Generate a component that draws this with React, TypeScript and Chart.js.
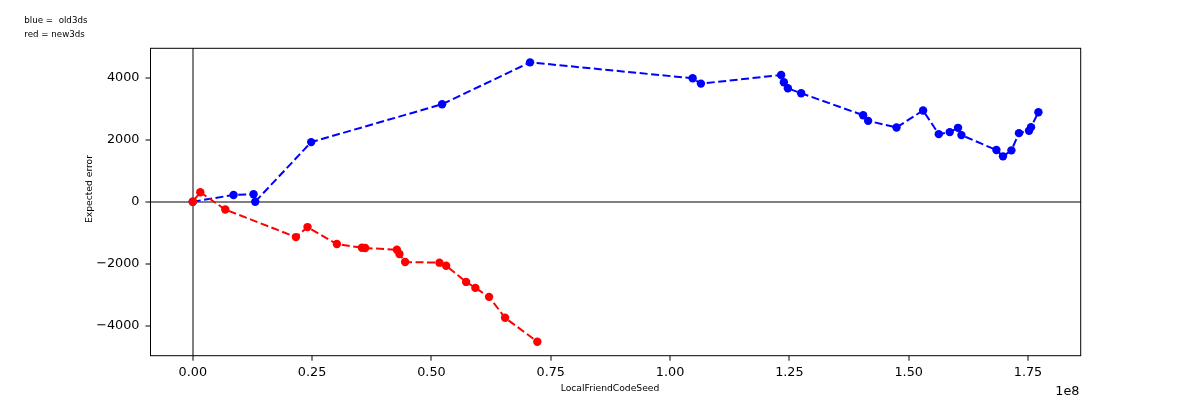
import React, { useEffect, useRef } from "react";
import { Chart, registerables } from "chart.js";
Chart.register(...registerables);

// LocalFriendCodeSeed values (x) and expected error (y)
const blueSeed = [
  0, 8540000, 12730000, 13090000, 24810000, 52240000, 70670000, 104730000,
  106470000, 123280000, 123850000, 124680000, 127470000, 140450000, 141500000,
  147450000, 153020000, 156300000, 158600000, 160340000, 161050000, 168380000,
  169760000, 171520000, 173110000, 175210000, 175630000, 177180000,
];
const blueError = [
  0, 218, 241, 0, 1921, 3142, 4492, 3978, 3807, 4084, 3849, 3656, 3496, 2789,
  2606, 2394, 2940, 2178, 2243, 2381, 2146, 1664, 1462, 1655, 2210, 2284, 2403,
  2885,
];

const redSeed = [
  0, 1570000, 6810000, 21610000, 24040000, 30190000, 35430000, 36120000,
  42760000, 43300000, 44490000, 51680000, 53080000, 57270000, 59210000,
  62080000, 65430000, 72190000,
];
const redError = [
  0, 305, -254, -1141, -819, -1365, -1484, -1494, -1549, -1687, -1944, -1966,
  -2063, -2586, -2779, -3068, -3743, -4514,
];

const xTicks = [0, 25000000, 50000000, 75000000, 100000000, 125000000, 150000000, 175000000];
const yTicks = [-4000, -2000, 0, 2000, 4000];

const legendLines = ["blue =  old3ds", "red = new3ds"];
const xTitle = "LocalFriendCodeSeed";
const yTitle = "Expected error";
const offsetText = "1e8";

const FONT = "DejaVu Sans";

// frame on all four sides plus the free-standing texts
const framePlugin = {
  id: "frameAndTexts",
  afterDraw(chart: any) {
    const { ctx, chartArea } = chart;
    ctx.save();
    ctx.strokeStyle = "#000";
    ctx.lineWidth = 1;
    ctx.strokeRect(
      chartArea.left,
      chartArea.top,
      chartArea.right - chartArea.left,
      chartArea.bottom - chartArea.top
    );

    ctx.fillStyle = "#000";
    ctx.textAlign = "left";
    ctx.textBaseline = "alphabetic";
    ctx.font = `8.7px "${FONT}"`;
    ctx.fillText(legendLines[0], 24.3, 23.4);
    ctx.fillText(legendLines[1], 24.3, 36.5);

    ctx.font = `9.2px "${FONT}"`;
    ctx.textAlign = "center";
    ctx.fillText(xTitle, 610, 391);

    ctx.save();
    ctx.translate(89.5, 189);
    ctx.rotate(-Math.PI / 2);
    ctx.textBaseline = "middle";
    ctx.fillText(yTitle, 0, 0);
    ctx.restore();

    ctx.font = `12.8px "${FONT}"`;
    ctx.textAlign = "right";
    ctx.textBaseline = "alphabetic";
    ctx.fillText(offsetText, 1079.5, 395);
    ctx.restore();
  },
};

const zeroLine = (ctx: any) => (ctx.tick && ctx.tick.value === 0 ? "#808080" : "rgba(0,0,0,0)");

export default function App() {
  const canvasRef = useRef<HTMLCanvasElement | null>(null);

  useEffect(() => {
    if (!canvasRef.current) return;
    const chart = new Chart(canvasRef.current, {
      type: "scatter",
      data: {
        datasets: [
          {
            label: "old3ds",
            data: blueSeed.map((x, i) => ({ x, y: blueError[i] })),
            showLine: true,
            borderColor: "#0000ff",
            borderWidth: 2,
            borderDash: [8, 3.5],
            pointRadius: 4.2,
            pointBorderWidth: 0,
            pointBackgroundColor: "#0000ff",
            order: 1,
          },
          {
            label: "new3ds",
            data: redSeed.map((x, i) => ({ x, y: redError[i] })),
            showLine: true,
            borderColor: "#ff0000",
            borderWidth: 2,
            borderDash: [8, 3.5],
            pointRadius: 4.2,
            pointBorderWidth: 0,
            pointBackgroundColor: "#ff0000",
            order: 0,
          },
        ],
      },
      options: {
        animation: false,
        responsive: true,
        maintainAspectRatio: false,
        layout: { padding: { top: 48.3, right: 119.3, left: 0, bottom: 0 } },
        plugins: {
          legend: { display: false },
          tooltip: { enabled: false },
        },
        scales: {
          x: {
            type: "linear",
            min: -8860000,
            max: 186040000,
            afterBuildTicks: (scale: any) => {
              scale.ticks = xTicks.map((value) => ({ value }));
            },
            afterFit: (scale: any) => {
              scale.height = 44.3;
            },
            grid: {
              color: zeroLine,
              lineWidth: 2,
              tickColor: "#000",
              tickWidth: 1,
              tickLength: 5,
            },
            border: { display: false },
            ticks: {
              color: "#000",
              padding: 4,
              maxRotation: 0,
              font: { family: FONT, size: 12.8 },
              callback: (v: any) => (Number(v) / 1e8).toFixed(2),
            },
          },
          y: {
            type: "linear",
            min: -4965,
            max: 4945,
            afterBuildTicks: (scale: any) => {
              scale.ticks = yTicks.map((value) => ({ value }));
            },
            afterFit: (scale: any) => {
              scale.width = 150.5;
            },
            grid: {
              color: zeroLine,
              lineWidth: 2,
              tickColor: "#000",
              tickWidth: 1,
              tickLength: 5,
            },
            border: { display: false },
            ticks: {
              color: "#000",
              padding: 6,
              font: { family: FONT, size: 12.8 },
              callback: (v: any) => String(v).replace("-", "\u2212"),
            },
          },
        },
      },
      plugins: [framePlugin],
    });
    return () => chart.destroy();
  }, []);

  return (
    <div style={{ position: "absolute", left: 0, top: 0, width: 1200, height: 400, background: "#fff" }}>
      <canvas ref={canvasRef} />
    </div>
  );
}
